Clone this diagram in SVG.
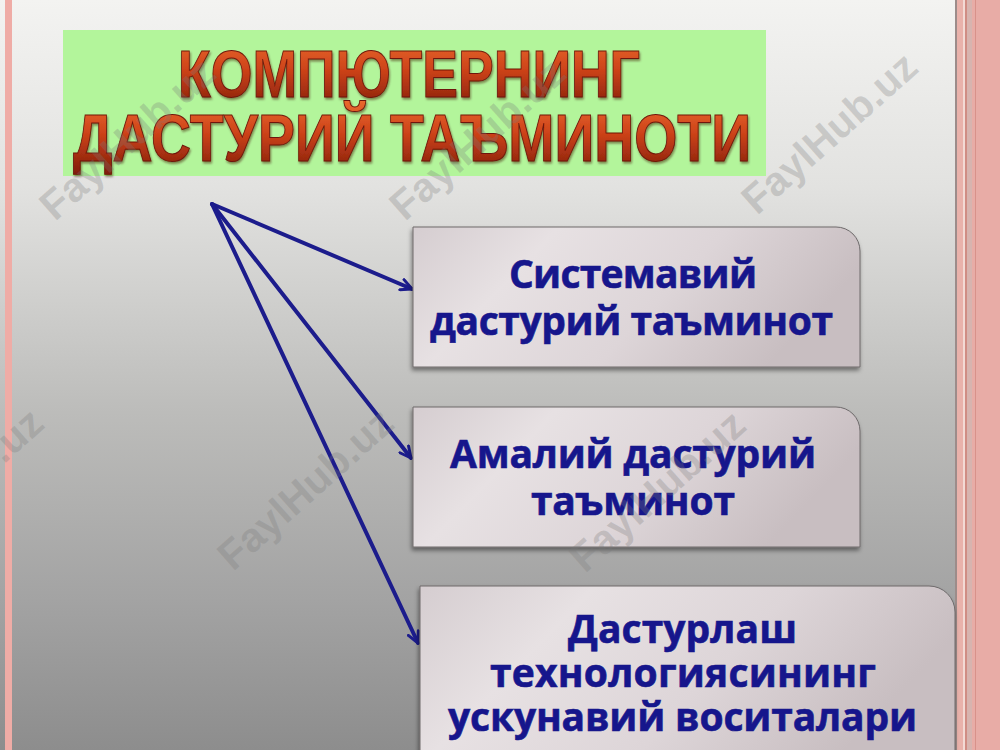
<svg xmlns="http://www.w3.org/2000/svg" width="1000" height="750" viewBox="0 0 1000 750">
  <defs>
    <linearGradient id="bg" x1="0" y1="0" x2="0" y2="1">
      <stop offset="0" stop-color="#f3f3f1"/>
      <stop offset="0.25" stop-color="#e2e2e0"/>
      <stop offset="0.55" stop-color="#bcbcba"/>
      <stop offset="0.8" stop-color="#a3a3a3"/>
      <stop offset="1" stop-color="#8d8d8d"/>
    </linearGradient>
    <linearGradient id="titleFill" x1="0" y1="0" x2="0" y2="1">
      <stop offset="0" stop-color="#ea6a2e"/>
      <stop offset="0.45" stop-color="#cc4219"/>
      <stop offset="1" stop-color="#7e1c0a"/>
    </linearGradient>
    <linearGradient id="boxFill" x1="0" y1="0" x2="1" y2="0.3">
      <stop offset="0" stop-color="#d5cdd0"/>
      <stop offset="0.3" stop-color="#e7e1e3"/>
      <stop offset="0.65" stop-color="#ddd5d8"/>
      <stop offset="1" stop-color="#c8bec1"/>
    </linearGradient>
    <filter id="boxShadow" x="-5%" y="-5%" width="110%" height="115%">
      <feDropShadow dx="-1" dy="3" stdDeviation="2" flood-color="#000" flood-opacity="0.45"/>
    </filter>
    <filter id="titleShadow" x="-5%" y="-10%" width="110%" height="130%">
      <feDropShadow dx="1" dy="2" stdDeviation="1" flood-color="#3a0a00" flood-opacity="0.5"/>
    </filter>
    <marker id="arrow" viewBox="0 0 14 14" refX="12.5" refY="7" markerWidth="14" markerHeight="14" markerUnits="userSpaceOnUse" orient="auto">
      <path d="M1.5,1.5 L12.5,7 L1.5,12.5" fill="none" stroke="#1c1c8c" stroke-width="3" stroke-linecap="round" stroke-linejoin="round"/>
    </marker>
    <style>
      .box { fill: url(#boxFill); stroke: #6e6a6b; stroke-width: 1; filter: url(#boxShadow); }
      .label { font-family: "Open Sans", "Noto Sans", "DejaVu Sans", sans-serif; font-weight: 700; font-size: 39px; fill: #16168c; stroke: #16168c; stroke-width: 0.6; }
      .title { font-family: "Liberation Sans Narrow", "Liberation Sans", Arial, sans-serif; font-weight: 700; font-size: 66px; fill: url(#titleFill); stroke: #6e1608; stroke-width: 1; filter: url(#titleShadow); }
      .conn { stroke: #1c1c8c; stroke-width: 4; fill: none; stroke-linecap: round; marker-end: url(#arrow); }
      .wm { font-family: "Liberation Sans", Arial, sans-serif; font-weight: 700; font-size: 41px; fill: #7a7a7a; fill-opacity: 0.28; }
    </style>
  </defs>

  <!-- background -->
  <rect x="0" y="0" width="1000" height="750" fill="url(#bg)"/>
  <rect x="5" y="0" width="7" height="750" fill="#efaca6"/>
  <rect x="955" y="0" width="2" height="750" fill="#9c8c8a"/>
  <rect x="957" y="0" width="6" height="750" fill="#e9b2ab"/>
  <rect x="963" y="0" width="2" height="750" fill="#f3dad5"/>
  <rect x="965" y="0" width="2" height="750" fill="#d08d84"/>
  <rect x="967" y="0" width="5" height="750" fill="#d7b4af"/>
  <rect x="972" y="0" width="28" height="750" fill="#e8aca6"/>
  <rect x="975" y="0" width="1" height="750" fill="#d8928a"/>

  <!-- title -->
  <g id="title">
    <rect x="63" y="30" width="703" height="146" fill="#b3f59b"/>
    <text class="title" x="178" y="97" textLength="462" lengthAdjust="spacingAndGlyphs">КОМПЮТЕРНИНГ</text>
    <text class="title" x="73" y="161" textLength="678" lengthAdjust="spacingAndGlyphs">ДАСТУРИЙ ТАЪМИНОТИ</text>
  </g>

  <!-- connectors -->
  <g id="connectors">
    <line class="conn" x1="212" y1="204" x2="412" y2="289"/>
    <line class="conn" x1="212" y1="204" x2="411" y2="458"/>
    <line class="conn" x1="212" y1="204" x2="418" y2="643"/>
  </g>

  <!-- nodes -->
  <g id="node-system">
    <path class="box" d="M413,227 H836 A24,24 0 0 1 860,251 V367 H413 Z"/>
    <text class="label" x="509" y="288" textLength="248" lengthAdjust="spacing">Системавий</text>
    <text class="label" x="430" y="335" textLength="403" lengthAdjust="spacing">дастурий таъминот</text>
  </g>

  <g id="node-applied">
    <path class="box" d="M413,407 H836 A24,24 0 0 1 860,431 V547 H413 Z"/>
    <text class="label" x="450" y="468" textLength="366" lengthAdjust="spacing">Амалий дастурий</text>
    <text class="label" x="531" y="515" textLength="204" lengthAdjust="spacing">таъминот</text>
  </g>

  <g id="node-tools">
    <path class="box" d="M420,586 H929 A26,26 0 0 1 955,612 V752 H420 Z"/>
    <text class="label" x="568" y="643" textLength="229" lengthAdjust="spacing">Дастурлаш</text>
    <text class="label" x="490" y="687" textLength="386" lengthAdjust="spacing">технологиясининг</text>
    <text class="label" x="448" y="731" textLength="469" lengthAdjust="spacing">ускунавий воситалари</text>
  </g>

  <!-- watermarks -->
  <g id="watermarks">
    <text class="wm" transform="translate(55,222) rotate(-41.7)">FaylHub.uz</text>
    <text class="wm" transform="translate(405,222) rotate(-41.7)">FaylHub.uz</text>
    <text class="wm" transform="translate(757,216) rotate(-41.7)">FaylHub.uz</text>
    <text class="wm" transform="translate(-117,572) rotate(-41.7)">FaylHub.uz</text>
    <text class="wm" transform="translate(233,572) rotate(-41.7)">FaylHub.uz</text>
    <text class="wm" transform="translate(585,574) rotate(-41.7)">FaylHub.uz</text>
  </g>
</svg>
